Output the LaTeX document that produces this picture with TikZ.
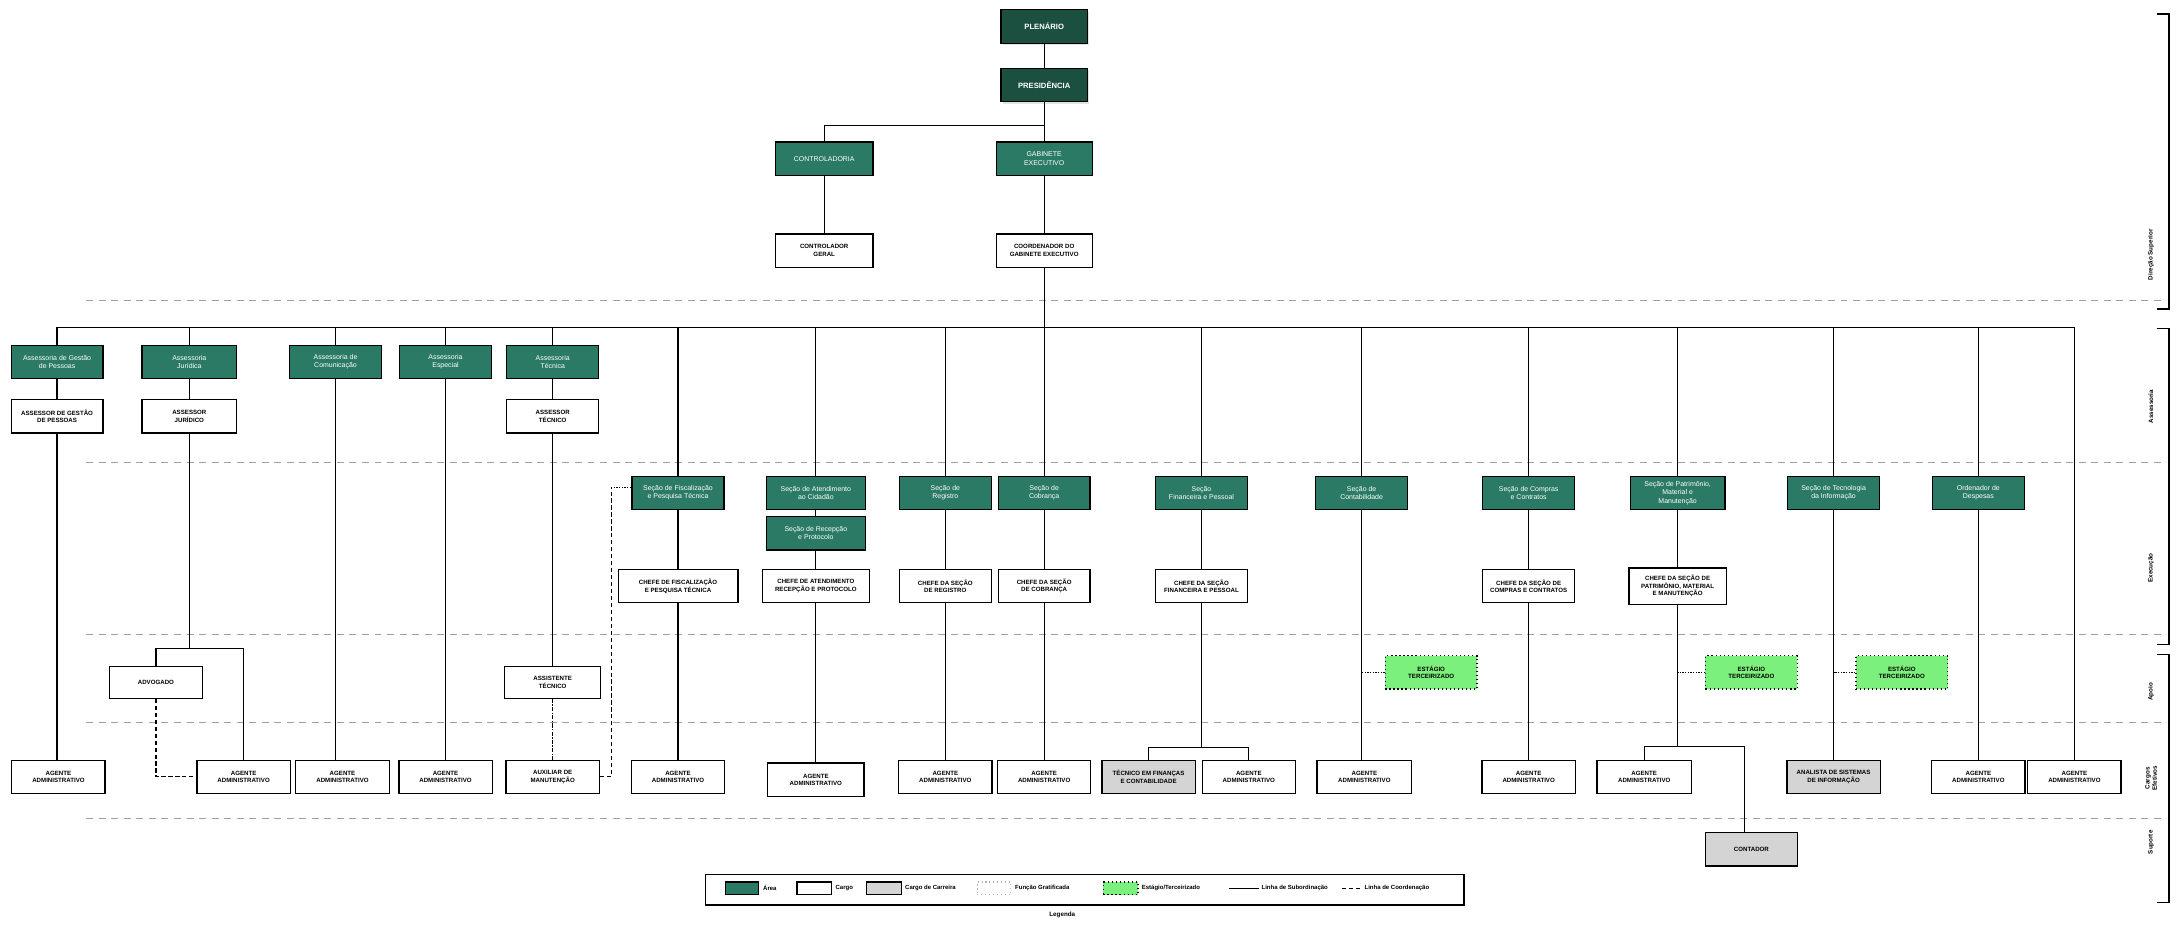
\documentclass[tikz,border=0pt]{standalone}
\usepackage{fontspec}
\setmainfont{Liberation Sans}
\usetikzlibrary{shadows}
\definecolor{dkgreen}{HTML}{1B4F3F}
\definecolor{tealbox}{HTML}{2B7A66}
\definecolor{ltgreen}{HTML}{7CF07C}
\definecolor{grayfill}{HTML}{D4D4D4}
\definecolor{sepgray}{HTML}{A0A0A0}
\tikzset{
 base/.style={draw=black, line width=0.9pt, align=center, inner sep=1pt, minimum width=66pt, minimum height=24pt},
 area/.style={base, fill=tealbox, text=white, font=\fontsize{5}{6}\selectfont},
 topbox/.style={area, fill=dkgreen, font=\fontsize{5.5}{6.5}\selectfont\bfseries, drop shadow={shadow xshift=1.5pt, shadow yshift=-1.5pt, fill=gray!45}},
 cargo/.style={base, fill=white, font=\fontsize{4.4}{5.4}\selectfont\bfseries},
 carreira/.style={cargo, fill=grayfill},
 terc/.style={cargo, fill=ltgreen, dotted, line width=1pt},
 link/.style={line width=0.9pt},
 coordl/.style={line width=0.9pt, densely dashed},
 sep/.style={sepgray, line width=0.7pt, dash pattern=on 5pt off 4pt},
 brk/.style={line width=0.9pt},
 lvl/.style={rotate=90, align=center, font=\fontsize{4.5}{5.2}\selectfont\bfseries},
 leg/.style={font=\fontsize{4.3}{5}\selectfont\bfseries, anchor=west, inner sep=1pt},
}
\begin{document}
\begin{tikzpicture}[x=1pt,y=-1pt]
\useasboundingbox (0,0) rectangle (1568,664);
% separators
\foreach \yy in {216,332,456,519,588} \draw[sep] (62,\yy) -- (1556,\yy);
% brackets
\draw[brk] (1549,10) -- (1558,10) -- (1558,222) -- (1549,222);
\draw[brk] (1549,236) -- (1558,236) -- (1558,463) -- (1549,463);
\draw[brk] (1549,470) -- (1558,470) -- (1558,648) -- (1549,648);
\node[lvl] (L1) at (1545,183) {Direção Superior};
\node[lvl] (L2) at (1545,292) {Assessoria};
\node[lvl] (L3) at (1545,408) {Execução};
\node[lvl] (L4) at (1545,497) {Apoio};
\node[lvl] (L5) at (1545,559) {Cargos\\Efetivos};
\node[lvl] (L6) at (1545,605) {Suporte};
% top
\node[topbox, minimum width=62pt] (PLE) at (750,19) {PLENÁRIO};
\node[topbox, minimum width=62pt] (PRE) at (750,61) {PRESIDÊNCIA};
\node[area, minimum width=70pt] (CTR) at (592,114) {CONTROLADORIA};
\node[area, minimum width=69pt] (GAB) at (750,114) {GABINETE\\EXECUTIVO};
\node[cargo, minimum width=70pt] (CTRG) at (592,180) {CONTROLADOR\\GERAL};
\node[cargo, minimum width=69pt] (COORD) at (750,180) {COORDENADOR DO\\GABINETE EXECUTIVO};
% assessorias
\node[area] (A1) at (41,260) {Assessoria de Gestão\\de Pessoas};
\node[area, minimum width=68pt] (A2) at (136,260) {Assessoria\\Jurídica};
\node[area] (A3) at (241,260) {Assessoria de\\Comunicação};
\node[area] (A4) at (320,260) {Assessoria\\Especial};
\node[area] (A5) at (397,260) {Assessoria\\Técnica};
\node[cargo] (WA1) at (41,299) {ASSESSOR DE GESTÃO\\DE PESSOAS};
\node[cargo, minimum width=68pt] (WA2) at (136,299) {ASSESSOR\\JURÍDICO};
\node[cargo] (WA5) at (397,299) {ASSESSOR\\TÉCNICO};
% secoes
\node[area] (S1) at (487,354) {Seção de Fiscalização\\e Pesquisa Técnica};
\node[area, minimum width=71pt] (S2) at (586,354) {Seção de Atendimento\\ao Cidadão};
\node[area, minimum width=71pt] (S2b) at (586,383) {Seção de Recepção\\e Protocolo};
\node[area] (S3) at (679,354) {Seção de\\Registro};
\node[area] (S4) at (750,354) {Seção de\\Cobrança};
\node[area] (S5) at (863,354) {Seção\\Financeira e Pessoal};
\node[area] (S6) at (978,354) {Seção de\\Contabilidade};
\node[area] (S7) at (1098,354) {Seção de Compras\\e Contratos};
\node[area, minimum width=68pt] (S8) at (1205,354) {Seção de Patrimônio,\\Material e\\Manutenção};
\node[area] (S9) at (1317,354) {Seção de Tecnologia\\da Informação};
\node[area] (S10) at (1421,354) {Ordenador de\\Despesas};
\node[cargo, minimum width=86pt] (W1) at (487,421) {CHEFE DE FISCALIZAÇÃO\\E PESQUISA TÉCNICA};
\node[cargo, minimum width=77pt] (W2) at (586,421) {CHEFE DE ATENDIMENTO\\RECEPÇÃO E PROTOCOLO};
\node[cargo] (W3) at (679,421) {CHEFE DA SEÇÃO\\DE REGISTRO};
\node[cargo] (W4) at (750,421) {CHEFE DA SEÇÃO\\DE COBRANÇA};
\node[cargo] (W5) at (863,421) {CHEFE DA SEÇÃO\\FINANCEIRA E PESSOAL};
\node[cargo] (W7) at (1098,421) {CHEFE DA SEÇÃO DE\\COMPRAS E CONTRATOS};
\node[cargo, minimum width=70pt, minimum height=26pt] (W8) at (1205,421) {CHEFE DA SEÇÃO DE\\PATRIMÔNIO, MATERIAL\\E MANUTENÇÃO};
% row 4
\node[cargo, minimum width=67pt, minimum height=23pt] (AUX) at (112,490) {ADVOGADO};
\node[cargo, minimum width=69pt, minimum height=23pt] (MOT) at (397,490) {ASSISTENTE\\TÉCNICO};
\node[terc] (G1) at (1028,483) {ESTÁGIO\\TERCEIRIZADO};
\node[terc] (G2) at (1258,483) {ESTÁGIO\\TERCEIRIZADO};
\node[terc] (G3) at (1366,483) {ESTÁGIO\\TERCEIRIZADO};
% bottom row
\node[cargo, minimum width=67pt] (B1) at (42,558) {AGENTE\\ADMINISTRATIVO};
\node[cargo, minimum width=67pt] (B2) at (175,558) {AGENTE\\ADMINISTRATIVO};
\node[cargo, minimum width=67pt] (B3) at (246,558) {AGENTE\\ADMINISTRATIVO};
\node[cargo, minimum width=67pt] (B4) at (320,558) {AGENTE\\ADMINISTRATIVO};
\node[cargo, minimum width=67pt] (B5) at (397,558) {AUXILIAR DE\\MANUTENÇÃO};
\node[cargo, minimum width=67pt] (B6) at (487,558) {AGENTE\\ADMINISTRATIVO};
\node[cargo, minimum width=69pt] (B7) at (586,560) {AGENTE\\ADMINISTRATIVO};
\node[cargo, minimum width=67pt] (B8) at (679,558) {AGENTE\\ADMINISTRATIVO};
\node[cargo, minimum width=67pt] (B9) at (750,558) {AGENTE\\ADMINISTRATIVO};
\node[carreira, minimum width=67pt] (B10) at (825,558) {TÉCNICO EM FINANÇAS\\E CONTABILIDADE};
\node[cargo, minimum width=67pt] (B11) at (897,558) {AGENTE\\ADMINISTRATIVO};
\node[cargo, minimum width=68pt] (B12) at (980,558) {AGENTE\\ADMINISTRATIVO};
\node[cargo, minimum width=67pt] (B13) at (1098,558) {AGENTE\\ADMINISTRATIVO};
\node[cargo, minimum width=68pt] (B14) at (1181,558) {AGENTE\\ADMINISTRATIVO};
\node[carreira, minimum width=67pt] (B15) at (1317,558) {ANALISTA DE SISTEMAS\\DE INFORMAÇÃO};
\node[cargo, minimum width=67pt] (B16) at (1421,558) {AGENTE\\ADMINISTRATIVO};
\node[cargo, minimum width=67pt] (B17) at (1490,558) {AGENTE\\ADMINISTRATIVO};
\node[carreira] (LON) at (1258,610) {CONTADOR};
% connectors top
\coordinate (j0) at (750,90);
\coordinate (bus) at (0,235);
\draw[link] (PLE) -- (PRE);
\draw[link] (PRE.south) -- (j0);
\draw[link] (j0) -| (CTR.north);
\draw[link] (j0) -- (GAB.north);
\draw[link] (CTR) -- (CTRG);
\draw[link] (GAB) -- (COORD);
\draw[link] (COORD.south) -- (COORD.south |- bus);
\draw[link] (A1.north |- bus) -- (B17.north |- bus);
% assessoria columns
\draw[link] (A1.north |- bus) -- (A1.north);
\draw[link] (A1) -- (WA1);
\draw[link] (WA1.south) -- (WA1.south |- B1.north);
\draw[link] (A2.north |- bus) -- (A2.north);
\draw[link] (A2) -- (WA2);
\coordinate (jJ) at (136,466);
\draw[link] (WA2.south) -- (jJ);
\draw[link] (AUX.north) |- (jJ) -| (B2.north);
\draw[coordl] (AUX.south) |- (B2.west);
\draw[link] (A3.north |- bus) -- (A3.north);
\draw[link] (A3.south) -- (A3.south |- B3.north);
\draw[link] (A4.north |- bus) -- (A4.north);
\draw[link] (A4.south) -- (A4.south |- B4.north);
\draw[link] (A5.north |- bus) -- (A5.north);
\draw[link] (A5) -- (WA5);
\draw[link] (WA5) -- (MOT);
\draw[line width=0.9pt, densely dash dot] (MOT) -- (B5);
\coordinate (kS) at (439,350);
\draw[coordl] (B5.east) -| (kS);
\draw[line width=0.9pt, densely dotted] (kS) -- (S1.west |- kS);
% secao columns
\draw[link] (S1.north |- bus) -- (S1.north);
\draw[link] (S1) -- (W1);
\draw[link] (W1) -- (B6);
\draw[link] (S2.north |- bus) -- (S2.north);
\draw[link] (S2) -- (S2b);
\draw[link] (S2b) -- (W2);
\draw[link] (W2) -- (B7);
\draw[link] (S3.north |- bus) -- (S3.north);
\draw[link] (S3) -- (W3);
\draw[link] (W3) -- (B8);
\draw[link] (S4.north |- bus) -- (S4.north);
\draw[link] (S4) -- (W4);
\draw[link] (W4) -- (B9);
\draw[link] (S5.north |- bus) -- (S5.north);
\draw[link] (S5) -- (W5);
\coordinate (jF) at (863,537);
\draw[link] (W5.south) -- (jF);
\draw[link] (B10.north) |- (jF) -| (B11.north);
\draw[link] (S6.north |- bus) -- (S6.north);
\draw[link] (S6.south) -- (S6.south |- B12.north);
\draw[line width=0.9pt, densely dotted] (G1.west) -- (G1.west -| S6.south);
\draw[link] (S7.north |- bus) -- (S7.north);
\draw[link] (S7) -- (W7);
\draw[link] (W7) -- (B13);
\draw[link] (S8.north |- bus) -- (S8.north);
\draw[link] (S8) -- (W8);
\coordinate (jP) at (1205,536);
\coordinate (jL) at (1253,536);
\draw[link] (W8.south) -- (jP);
\draw[link] (B14.north) |- (jL);
\draw[link] (jL) -- (jL |- LON.north);
\draw[line width=0.9pt, densely dotted] (G2.west) -- (G2.west -| S8.south);
\draw[link] (S9.north |- bus) -- (S9.north);
\draw[link] (S9) -- (B15);
\draw[line width=0.9pt, densely dotted] (G3.west) -- (G3.west -| S9.south);
\draw[link] (S10.north |- bus) -- (S10.north);
\draw[link] (S10) -- (B16);
\draw[link] (B17.north |- bus) -- (B17.north);
% legend
\node[draw, line width=0.9pt, minimum width=545pt, minimum height=22pt, inner sep=0pt] (LEG) at (779,639) {};
\node[area, minimum width=24pt, minimum height=9pt] (lgA) at (533,638) {};
\node[leg] (ltA) at (547,638) {Área};
\node[cargo, minimum width=25pt, minimum height=9pt] (lgC) at (585,638) {};
\node[leg] (ltC) at (599,638) {Cargo};
\node[carreira, minimum width=25pt, minimum height=9pt] (lgR) at (635,638) {};
\node[leg] (ltR) at (649,638) {Cargo de Carreira};
\node[draw=gray!60, dotted, line width=0.8pt, minimum width=24pt, minimum height=9pt] (lgF) at (714,638) {};
\node[leg] (ltF) at (728,638) {Função Gratificada};
\node[terc, minimum width=25pt, minimum height=9pt] (lgT) at (805,638) {};
\node[leg] (ltT) at (819,638) {Estágio/Terceirizado};
\coordinate (lsa) at (883,638);
\coordinate (lsb) at (904,638);
\draw[link] (lsa) -- (lsb);
\node[leg] (ltS) at (905,638) {Linha de Subordinação};
\coordinate (lda) at (964,638);
\coordinate (ldb) at (978,638);
\draw[coordl] (lda) -- (ldb);
\node[leg] (ltD) at (979,638) {Linha de Coordenação};
\node[font=\fontsize{4.5}{5}\selectfont\bfseries] (LT) at (763,657) {Legenda};
\end{tikzpicture}
\end{document}
